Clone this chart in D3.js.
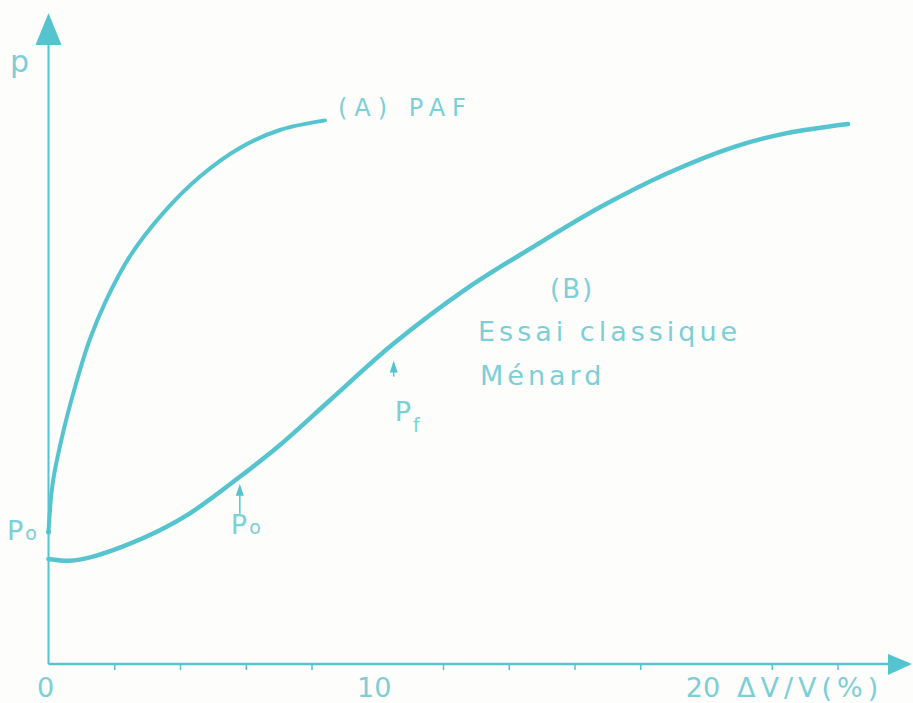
<!DOCTYPE html>
<html>
<head>
<meta charset="utf-8">
<script src="https://cdn.jsdelivr.net/npm/d3@7"></script>
<style>
  html, body { margin: 0; padding: 0; background: #fdfdfb; }
  svg { display: block; }
  text { font-family: "DejaVu Sans", sans-serif; font-weight: 400; fill: #7ccfd7; }
</style>
</head>
<body>
<div id="chart"></div>
<script>
// dV/V (%) and p (arbitrary units)
const pafX = [0, 0.13, 0.44, 0.84, 1.25, 1.76, 2.47, 3.48, 4.6, 5.82, 7.04, 8.41];
const pafP = [2.2, 3.02, 3.85, 4.68, 5.4, 6.07, 6.79, 7.51, 8.12, 8.6, 8.9, 9.06];

const menardX = [0, 0.64, 1.35, 2.27, 3.28, 4.3, 5.82, 7.04, 8.57, 10.5, 12.73, 14.77, 16.8, 18.83, 20.86, 22.39, 24.32];
const menardP = [1.75, 1.72, 1.79, 1.96, 2.2, 2.51, 3.12, 3.65, 4.4, 5.34, 6.26, 6.96, 7.62, 8.18, 8.62, 8.84, 9.0];

const minorTicks = [2, 4, 6, 8, 12, 14, 16, 18, 22, 24];
const tickLabels = [0, 10, 20];

const width = 913, height = 703;
const color = "#55c4cf";

const x = d3.scaleLinear().domain([0, 20]).range([48.5, 706]);
const y = d3.scaleLinear().domain([0, 10]).range([664, 64]);

const svg = d3.select("#chart").append("svg")
  .attr("width", width)
  .attr("height", height);

// axes
const axisG = svg.append("g").attr("transform", `translate(0,${y(0)})`)
  .call(d3.axisBottom(x).tickValues(minorTicks).tickSize(6).tickFormat(""));
axisG.select(".domain").remove();
axisG.selectAll(".tick line").attr("stroke", color).attr("stroke-width", 1.5);

svg.append("line")
  .attr("x1", x(0)).attr("x2", 888)
  .attr("y1", y(0)).attr("y2", y(0))
  .attr("stroke", color).attr("stroke-width", 2.5);
svg.append("path")
  .attr("d", `M888,${y(0) - 10}L912,${y(0)}L888,${y(0) + 11}Z`)
  .attr("fill", color);

svg.append("line")
  .attr("x1", x(0)).attr("x2", x(0))
  .attr("y1", y(0)).attr("y2", 44)
  .attr("stroke", color).attr("stroke-width", 2);
svg.append("path")
  .attr("d", `M${x(0) - 13},45L${x(0)},13L${x(0) + 13},45Z`)
  .attr("fill", color);

svg.selectAll(".xlab")
  .data(tickLabels)
  .enter().append("text")
  .attr("class", "xlab")
  .attr("x", d => x(d) - 3)
  .attr("y", 697)
  .attr("text-anchor", "middle")
  .attr("font-size", 27)
  .text(d => d);

svg.append("text")
  .attr("x", 737).attr("y", 697)
  .attr("font-size", 27)
  .attr("letter-spacing", 5)
  .text("ΔV/V(%)");

svg.append("text")
  .attr("x", 10).attr("y", 72)
  .attr("font-size", 30)
  .text("p");

// curves
const line = d3.line()
  .x(d => x(d[0]))
  .y(d => y(d[1]))
  .curve(d3.curveCatmullRom.alpha(0.5));

svg.append("path")
  .datum(d3.zip(pafX, pafP))
  .attr("d", line)
  .attr("fill", "none")
  .attr("stroke", color)
  .attr("stroke-width", 4)
  .attr("stroke-linecap", "round");

svg.append("path")
  .datum(d3.zip(menardX, menardP))
  .attr("d", line)
  .attr("fill", "none")
  .attr("stroke", color)
  .attr("stroke-width", 4.5)
  .attr("stroke-linecap", "round");

svg.append("circle")
  .attr("cx", x(0)).attr("cy", y(pafP[0]))
  .attr("r", 2.5)
  .attr("fill", color);

// labels
svg.append("text")
  .attr("x", x(pafX[pafX.length - 1]) + 13).attr("y", 116)
  .attr("font-size", 24)
  .attr("letter-spacing", 7)
  .text("(A) PAF");

svg.append("text")
  .attr("x", 550).attr("y", 298)
  .attr("font-size", 26)
  .attr("letter-spacing", 2)
  .text("(B)");
svg.append("text")
  .attr("x", 478).attr("y", 341)
  .attr("font-size", 27)
  .attr("letter-spacing", 4)
  .text("Essai classique");
svg.append("text")
  .attr("x", 480).attr("y", 385)
  .attr("font-size", 27)
  .attr("letter-spacing", 4)
  .text("Ménard");

// p0 on y axis
const p0 = svg.append("text")
  .attr("x", 7).attr("y", 540)
  .attr("font-size", 27);
p0.append("tspan").text("P");
p0.append("tspan").attr("font-size", 19).attr("dx", 2).text("o");

// markers under curve B
const markers = [
  { x: 5.82, sub: "o", gap: 7, len: 30, dx: -9, dy: 20, sdy: 0 },
  { x: 10.5, sub: "f", gap: 17, len: 16, dx: 1, dy: 44, sdy: 11 }
];
const interpB = d3.scaleLinear().domain(menardX).range(menardP);

markers.forEach(m => {
  const px = x(m.x);
  const tip = y(interpB(m.x)) + m.gap;
  svg.append("line")
    .attr("x1", px).attr("x2", px)
    .attr("y1", tip + 6).attr("y2", tip + m.len)
    .attr("stroke", color).attr("stroke-width", 1.5);
  svg.append("path")
    .attr("d", `M${px - 4},${tip + 12}L${px},${tip}L${px + 4},${tip + 12}Z`)
    .attr("fill", color);
  const t = svg.append("text")
    .attr("x", px + m.dx).attr("y", tip + m.len + m.dy)
    .attr("font-size", 27);
  t.append("tspan").text("P");
  t.append("tspan").attr("font-size", 19).attr("dx", 2).attr("dy", m.sdy).text(m.sub);
});
</script>
</body>
</html>
